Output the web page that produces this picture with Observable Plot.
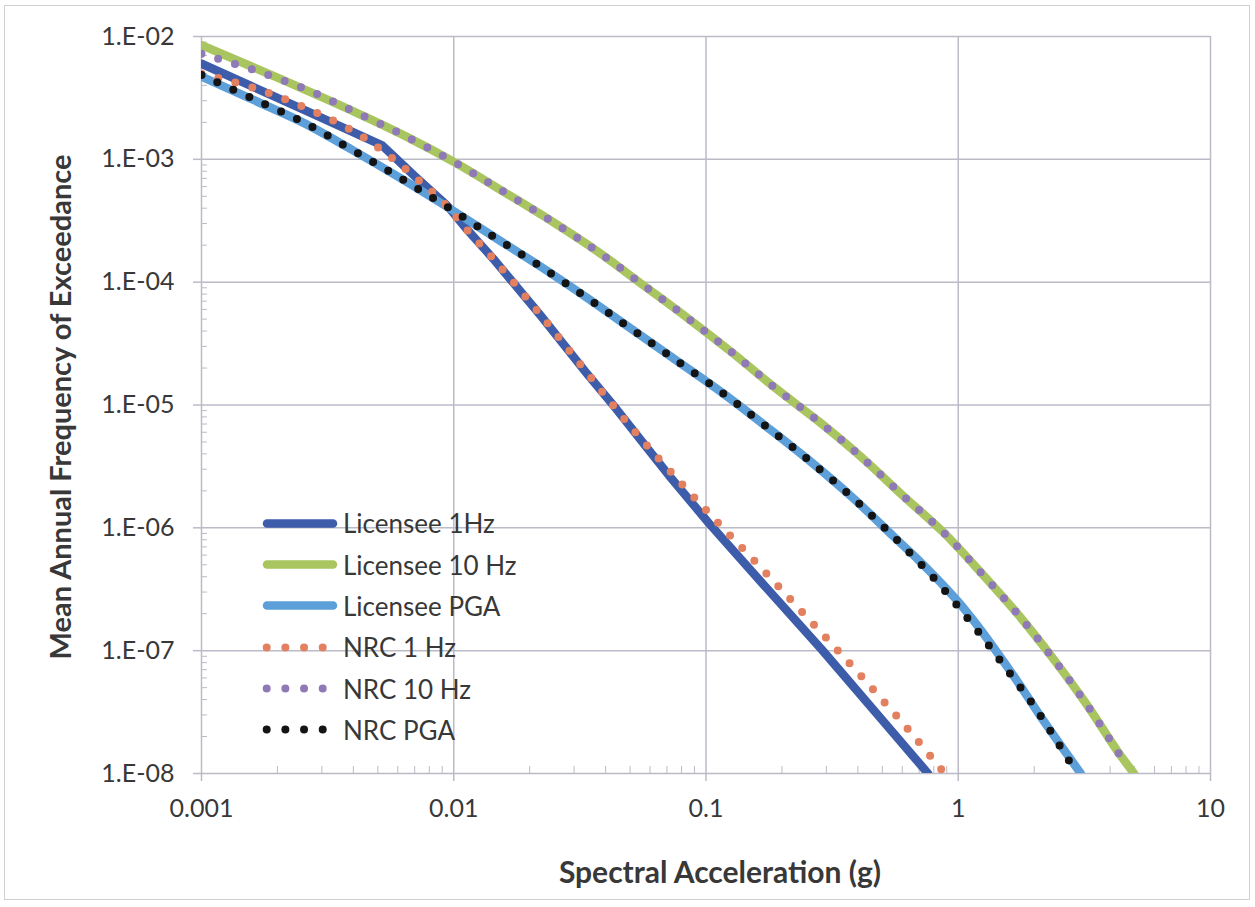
<!DOCTYPE html>
<html><head><meta charset="utf-8">
<script src="https://cdn.jsdelivr.net/npm/d3@7"></script>
<script src="https://cdn.jsdelivr.net/npm/@observablehq/plot@0.6"></script>
<style>
body{margin:0;background:#fff;}
#wrap{position:relative;width:1255px;height:907px;overflow:hidden;font-family:Lato,"Open Sans",sans-serif;background:#fff;}
#frame{position:absolute;left:4px;top:5px;width:1246px;height:895px;border:1.5px solid #cfd0d6;box-sizing:border-box;pointer-events:none;}
#legend{position:absolute;left:258px;top:502.6px;}
.row{display:flex;align-items:center;height:41.35px;}
.row span{font-size:26px;color:#383838;white-space:nowrap;}
</style></head><body>
<div id="wrap"><div id="chart"></div><div id="legend"></div><div id="frame"></div></div>
<script>
// ---- data ----
const xTicks = [0.001, 0.01, 0.1, 1, 10];
const xTickLabels = ["0.001", "0.01", "0.1", "1", "10"];
const yTicks = [1e-8, 1e-7, 1e-6, 1e-5, 1e-4, 1e-3, 1e-2];
const yTickLabels = ["1.E-08", "1.E-07", "1.E-06", "1.E-05", "1.E-04", "1.E-03", "1.E-02"];
const xTitle = "Spectral Acceleration (g)";
const yTitle = "Mean Annual Frequency of Exceedance";
const seriesNames = ["Licensee 1Hz", "Licensee 10 Hz", "Licensee PGA", "NRC 1 Hz", "NRC 10 Hz", "NRC PGA"];

const licensee1Hz = [[0.001,6.0e-3],[0.0025,2.58e-3],[0.0052,1.3e-3],[0.00695,7.4e-4],[0.00942,4.2e-4],[0.01135,2.65e-4],[0.01435,1.55e-4],[0.0221,5.35e-5],[0.0336,1.82e-5],[0.0425,1.02e-5],[0.0555,5.11e-6],[0.0713,2.67e-6],[0.1027,1.09e-6],[0.17,3.4e-7],[0.289,1.01e-7],[0.47,3.15e-8],[0.759,1.0e-8]];
const licensee10Hz = [[0.001,8.5e-3],[0.002,4.62e-3],[0.0041,2.4e-3],[0.006576,1.51e-3],[0.01033,9.19e-4],[0.0159,5.39e-4],[0.0246,3.11e-4],[0.0373,1.77e-4],[0.0567,9.38e-5],[0.0848,5.08e-5],[0.1264,2.69e-5],[0.187,1.39e-5],[0.2805,7.32e-6],[0.414,3.75e-6],[0.600,1.85e-6],[0.873,9.19e-7],[1.238,4.26e-7],[1.741,1.93e-7],[2.384,8.56e-8],[3.22,3.68e-8],[4.27,1.53e-8],[4.98,1.0e-8]];
const licenseePGA = [[0.001,4.72e-3],[0.00159,3.07e-3],[0.00254,1.98e-3],[0.00394,1.2e-3],[0.0061,7.1e-4],[0.00936,4.13e-4],[0.01438,2.35e-4],[0.02208,1.34e-4],[0.03362,7.5e-5],[0.051,4.11e-5],[0.0771,2.27e-5],[0.117,1.24e-5],[0.175,6.58e-6],[0.262,3.41e-6],[0.385,1.73e-6],[0.554,8.5e-7],[0.7,5.4e-7],[0.85,3.6e-7],[1.0,2.5e-7],[1.2,1.57e-7],[1.41,1.0e-7],[1.75,5.3e-8],[2.1,3.0e-8],[2.6,1.6e-8],[3.06,1.0e-8]];
const nrc1Hz = [[0.001,4.97e-3],[0.001637,3.77e-3],[0.00263,2.59e-3],[0.00415,1.62e-3],[0.00547,1.09e-3],[0.00706,7.11e-4],[0.00911,4.45e-4],[0.01135,2.63e-4],[0.01435,1.55e-4],[0.0221,5.42e-5],[0.0336,1.85e-5],[0.0518,6.19e-6],[0.0813,2.21e-6],[0.115,1.03e-6],[0.1637,4.83e-7],[0.2314,2.25e-7],[0.3265,1.05e-7],[0.4605,4.81e-8],[0.643,2.2e-8],[0.883,1.0e-8]];
const nrc10Hz = [[0.001,7.23e-3],[0.001637,5.28e-3],[0.002625,3.68e-3],[0.004168,2.37e-3],[0.006576,1.51e-3],[0.01033,9.19e-4],[0.0159,5.39e-4],[0.0246,3.11e-4],[0.0373,1.77e-4],[0.0567,9.38e-5],[0.0848,5.08e-5],[0.1264,2.69e-5],[0.187,1.39e-5],[0.2805,7.32e-6],[0.414,3.75e-6],[0.600,1.85e-6],[0.873,9.19e-7],[1.238,4.26e-7],[1.741,1.93e-7],[2.384,8.56e-8],[3.22,3.68e-8],[4.4,1.38e-8]];
const nrcPGA = [[0.001,4.85e-3],[0.00159,3.13e-3],[0.00254,2.0e-3],[0.00394,1.2e-3],[0.0061,7.1e-4],[0.00936,4.13e-4],[0.01438,2.35e-4],[0.02208,1.34e-4],[0.03362,7.5e-5],[0.051,4.11e-5],[0.0771,2.27e-5],[0.117,1.24e-5],[0.175,6.58e-6],[0.262,3.41e-6],[0.385,1.73e-6],[0.554,8.48e-7],[0.791,4.0e-7],[1.10,1.79e-7],[1.50,7.8e-8],[2.03,3.37e-8],[2.67,1.4e-8],[2.95,1.0e-8]];

// ---- styles ----
const seriesData = [licensee1Hz, licensee10Hz, licenseePGA, nrc1Hz, nrc10Hz, nrcPGA];
const colors = ["#3d5caa", "#a9c55f", "#5c9fd9", "#e3805f", "#8f79b7", "#141414"];
const dotted = [false, false, false, true, true, true];
const curves = ["linear", "catmull-rom", "catmull-rom", "catmull-rom", "catmull-rom", "catmull-rom"];

const minorX = [], minorY = [];
for (let e = -3; e < 1; e++) for (let m = 2; m <= 9; m++) minorX.push(m * Math.pow(10, e));
for (let e = -8; e < -2; e++) for (let m = 2; m <= 9; m++) minorY.push(m * Math.pow(10, e));

const xLab = new Map(xTicks.map((d, i) => [d, xTickLabels[i]]));
const yLab = new Map(yTicks.map((d, i) => [d, yTickLabels[i]]));
const gridColor = "#babbc7";
const textColor = "#383838";

const lineMarks = seriesData.map((data, i) => Plot.line(data, {
  x: d => d[0], y: d => d[1],
  stroke: colors[i],
  strokeWidth: dotted[i] ? 8 : 8.5,
  strokeLinecap: "round",
  strokeLinejoin: "round",
  strokeDasharray: dotted[i] ? "0 17.5" : null,
  curve: curves[i],
  clip: true
}));

const chart = Plot.plot({
  width: 1255, height: 907,
  marginLeft: 201, marginRight: 45, marginTop: 36, marginBottom: 134,
  style: {fontFamily: "Lato, 'Open Sans', sans-serif", background: "white", color: textColor},
  x: {type: "log", domain: [0.001, 10]},
  y: {type: "log", domain: [1e-8, 1e-2]},
  marks: [
    Plot.gridX(xTicks, {stroke: gridColor, strokeOpacity: 1, strokeWidth: 1.5}),
    Plot.gridY(yTicks, {stroke: gridColor, strokeOpacity: 1, strokeWidth: 1.5}),
    Plot.axisY(minorY, {tickSize: 6, dx: 6, tickFormat: () => "", stroke: gridColor, label: null}),
    Plot.axisX(minorX, {tickSize: 7, dy: -7, tickFormat: () => "", stroke: gridColor, label: null}),
    Plot.axisY(yTicks, {tickSize: 8, tickPadding: 19, tickFormat: d => yLab.get(d), stroke: gridColor, strokeWidth: 1.5, fontSize: 25, fill: textColor, label: null}),
    Plot.axisX(xTicks, {tickSize: 8, tickPadding: 18, tickFormat: d => xLab.get(d), stroke: gridColor, strokeWidth: 1.5, fontSize: 25, fill: textColor, label: null}),
    ...lineMarks,
    Plot.text([yTitle], {frameAnchor: "left", textAnchor: "middle", lineAnchor: "middle", dx: -140, dy: 2, rotate: -90, fontSize: 29, fontWeight: "bold", fill: textColor}),
    Plot.text([xTitle], {frameAnchor: "bottom", textAnchor: "middle", lineAnchor: "middle", dx: 14, dy: 100, fontSize: 30, fontWeight: "bold", fill: textColor})
  ]
});
document.getElementById("chart").appendChild(chart);

// ---- legend ----
const legend = d3.select("#legend");
seriesNames.forEach((name, i) => {
  const row = legend.append("div").attr("class", "row");
  const svg = row.append("svg").attr("width", 85).attr("height", 41);
  if (dotted[i]) {
    svg.append("line").attr("x1", 8.7).attr("x2", 65.5).attr("y1", 20.5).attr("y2", 20.5)
      .attr("stroke", colors[i]).attr("stroke-width", 8).attr("stroke-linecap", "round")
      .attr("stroke-dasharray", "0 18.67");
  } else {
    svg.append("line").attr("x1", 9).attr("x2", 75).attr("y1", 20.5).attr("y2", 20.5)
      .attr("stroke", colors[i]).attr("stroke-width", 8.5).attr("stroke-linecap", "round");
  }
  row.append("span").text(name);
});
</script>
</body></html>
